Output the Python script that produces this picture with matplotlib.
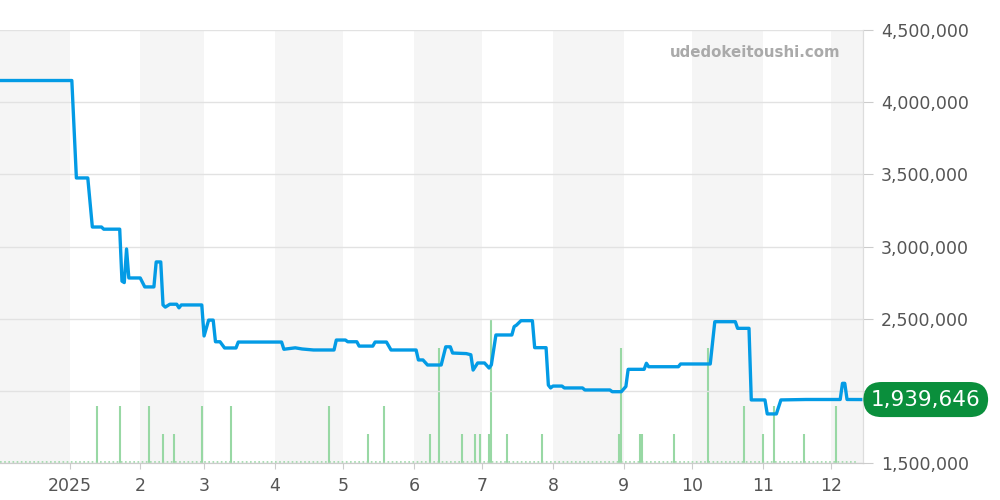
import matplotlib
matplotlib.use('Agg')
import matplotlib.pyplot as plt
import matplotlib.ticker as mticker
import pandas as pd

# price history (yen)
price_dates = [
    '2024-12-02', '2025-01-02', '2025-01-04', '2025-01-09', '2025-01-11', '2025-01-15',
    '2025-01-16', '2025-01-23', '2025-01-24', '2025-01-25', '2025-01-26', '2025-01-27',
    '2025-02-01', '2025-02-03', '2025-02-07', '2025-02-08', '2025-02-10', '2025-02-11',
    '2025-02-12', '2025-02-14', '2025-02-17', '2025-02-18', '2025-02-19', '2025-02-28',
    '2025-03-01', '2025-03-03', '2025-03-05', '2025-03-06', '2025-03-08', '2025-03-10',
    '2025-03-15', '2025-03-16', '2025-04-04', '2025-04-05', '2025-04-10', '2025-04-13',
    '2025-04-18', '2025-04-27', '2025-04-28', '2025-05-02', '2025-05-03', '2025-05-07',
    '2025-05-08', '2025-05-14', '2025-05-15', '2025-05-20', '2025-05-22', '2025-06-02',
    '2025-06-03', '2025-06-05', '2025-06-07', '2025-06-13', '2025-06-15', '2025-06-17',
    '2025-06-18', '2025-06-24', '2025-06-26', '2025-06-27', '2025-06-29', '2025-07-02',
    '2025-07-04', '2025-07-05', '2025-07-07', '2025-07-14', '2025-07-15', '2025-07-16',
    '2025-07-18', '2025-07-23', '2025-07-24', '2025-07-29', '2025-07-30', '2025-07-31',
    '2025-08-01', '2025-08-05', '2025-08-06', '2025-08-14', '2025-08-15', '2025-08-26',
    '2025-08-27', '2025-08-31', '2025-09-02', '2025-09-03', '2025-09-10', '2025-09-11',
    '2025-09-12', '2025-09-25', '2025-09-26', '2025-10-09', '2025-10-11', '2025-10-20',
    '2025-10-21', '2025-10-26', '2025-10-27', '2025-11-02', '2025-11-03', '2025-11-07',
    '2025-11-09', '2025-11-20', '2025-12-05', '2025-12-06', '2025-12-07', '2025-12-08',
    '2025-12-14',
]
price_values = [
    4150000, 4150000, 3475000, 3475000, 3135000, 3135000,
    3120000, 3120000, 2760000, 2750000, 2983000, 2782000,
    2782000, 2720000, 2720000, 2893000, 2893000, 2595000,
    2580000, 2600000, 2600000, 2575000, 2595000, 2595000,
    2380000, 2490000, 2490000, 2340000, 2340000, 2297000,
    2297000, 2338000, 2338000, 2288000, 2298000, 2290000,
    2283000, 2283000, 2352000, 2352000, 2340000, 2340000,
    2310000, 2310000, 2338000, 2338000, 2283000, 2283000,
    2214000, 2214000, 2179000, 2179000, 2305000, 2305000,
    2262000, 2258000, 2250000, 2144000, 2193000, 2193000,
    2158000, 2180000, 2387000, 2387000, 2445000, 2455000,
    2486000, 2486000, 2299000, 2299000, 2040000, 2020000,
    2033000, 2033000, 2020000, 2020000, 2006000, 2006000,
    1994000, 1994000, 2030000, 2149000, 2149000, 2191000,
    2167000, 2167000, 2186000, 2186000, 2479000, 2479000,
    2433000, 2433000, 1937000, 1937000, 1840000, 1840000,
    1937000, 1940000, 1940000, 2052000, 2052000, 1940000,
    1939646,
]

# trade volume
vol_dates = [
    '2025-01-13', '2025-01-23', '2025-02-05', '2025-02-11', '2025-02-16', '2025-02-28',
    '2025-03-13', '2025-04-25', '2025-05-12', '2025-05-19', '2025-06-08', '2025-06-12',
    '2025-06-22', '2025-06-28', '2025-06-30', '2025-07-04', '2025-07-05', '2025-07-12',
    '2025-07-27', '2025-08-30', '2025-08-31', '2025-09-08', '2025-09-09', '2025-09-23',
    '2025-10-08', '2025-10-24', '2025-11-01', '2025-11-06', '2025-11-19', '2025-12-03',
]
vol_values = [2, 2, 2, 1, 1, 2, 2, 2, 1, 2, 1, 4, 1, 1, 1, 1, 5, 1, 1, 1, 4, 1, 1, 1, 4, 2, 1, 2, 1, 2]

month_starts = pd.date_range('2024-12-01', '2026-01-01', freq='MS')
tick_labels = ['2025', '2', '3', '4', '5', '6', '7', '8', '9', '10', '11', '12']
last_price = 1939646

pd_dates = pd.to_datetime(price_dates)
vd = pd.to_datetime(vol_dates)
xmin = pd.Timestamp('2024-12-01 12:00')
xmax = pd.Timestamp('2025-12-15')

fig = plt.figure(figsize=(10, 5), dpi=100)
axv = fig.add_axes([0, 1 - 463 / 500, 0.863, 433 / 500])
ax = axv.twinx()

# month bands
for i in range(len(month_starts) - 1):
    if month_starts[i].month % 2 == 0:
        axv.axvspan(month_starts[i], month_starts[i + 1], color='#f5f5f5', lw=0, zorder=0)

axv.vlines(vd, 0, vol_values, color='#98d8a4', lw=1.5, zorder=2)
axv.plot([xmin, pd.Timestamp('2025-12-12')], [0.05, 0.05], color='#98d8a4', lw=1.2,
         ls=(0, (1, 1.5)), zorder=2)
axv.set_ylim(0, 15.1)
axv.set_yticks([])

ax.plot(pd_dates, price_values, color='#039be5', lw=2.4, solid_joinstyle='round', zorder=3)
ax.set_ylim(1500000, 4500000)
ax.set_xlim(xmin, xmax)
ax.yaxis.set_major_locator(mticker.MultipleLocator(500000))
# the 2,000,000 label sits under the last-price badge
ax.yaxis.set_major_formatter(mticker.FuncFormatter(
    lambda v, p: '' if abs(v - 2000000) < 1 else f'{int(v):,}'))
ax.grid(axis='y', color='#e2e2e2', lw=1)
ax.set_axisbelow(True)

ax.set_xticks(month_starts[1:13])
ax.set_xticklabels(tick_labels)
axv.set_xticks(month_starts[1:13])
axv.set_xticklabels(tick_labels)

for a in (ax, axv):
    for s in ('top', 'left'):
        a.spines[s].set_visible(False)
    a.spines['right'].set_color('#dddddd')
    a.spines['bottom'].set_color('#cccccc')

ax.tick_params(axis='y', colors='#cccccc', labelcolor='#555555', labelsize=12.5, length=7, pad=6)
axv.tick_params(axis='x', colors='#cccccc', labelcolor='#555555', labelsize=12.5, length=4, pad=6)
ax.tick_params(axis='x', length=0, labelbottom=False)

ax.text(0.974, 0.948, 'udedokeitoushi.com', transform=ax.transAxes, ha='right', va='center',
        fontsize=10.8, fontweight='bold', color='#aaaaaa')

ax.text(1.0727, last_price, f'{last_price:,}', transform=ax.get_yaxis_transform(),
        ha='center', va='center', fontsize=15.5, color='white', zorder=10, clip_on=False,
        bbox=dict(boxstyle='round,pad=0.35,rounding_size=0.85', fc='#0a8f3c', ec='none'))

fig.savefig('out.png', dpi=100)
